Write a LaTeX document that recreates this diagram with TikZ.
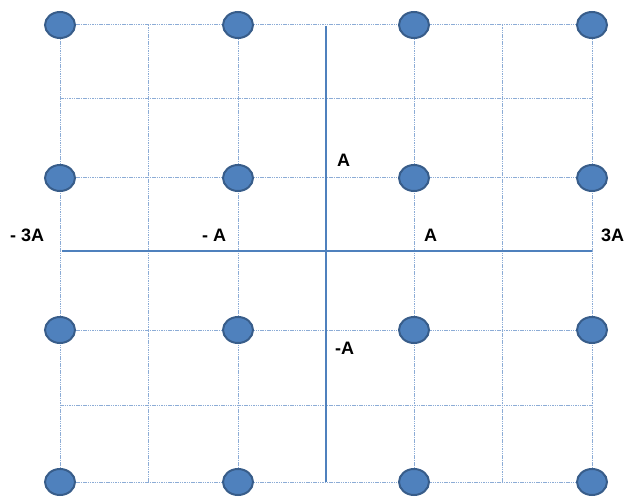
\documentclass[tikz,border=0pt]{standalone}
\usepackage{fontspec}
\setmainfont{Liberation Sans}
\usetikzlibrary{shapes.geometric}
\definecolor{pointfill}{RGB}{79,129,189}
\definecolor{pointedge}{RGB}{56,93,138}
\definecolor{gridblue}{RGB}{140,172,214}
\definecolor{axisblue}{RGB}{79,129,189}
\begin{document}
\begin{tikzpicture}[x=1pt, y=-1pt, every node/.style={font=\bfseries\fontsize{18}{20}\selectfont, inner sep=0pt}]
\tikzset{
  point/.style={ellipse, draw=pointedge, line width=2pt, fill=pointfill, minimum width=30pt, minimum height=26pt},
  gridline/.style={draw=gridblue, line width=1pt, dash pattern=on 1.5pt off 0.8pt},
  axisline/.style={draw=axisblue, line width=2.5pt},
  axislabel/.style={anchor=base west}
}
\useasboundingbox (0,0) rectangle (624,497);

% dotted grid
\foreach \gx in {60,148,238,414,502,592}
  \draw[gridline] (\gx,25) -- (\gx,482);
\foreach \gy in {25,99,178,330,405,482}
  \draw[gridline] (60,\gy) -- (592,\gy);

% axes
\coordinate (xleft) at (62,251);
\coordinate (xright) at (592,251);
\coordinate (ytop) at (326,26);
\coordinate (ybottom) at (326,482);
\draw[axisline] (xleft) -- (xright);
\draw[axisline] (ytop) -- (ybottom);

% constellation points
\foreach \px [count=\i] in {60,238,414,592}
  \foreach \py [count=\j] in {25,178,330,482}
    \node[point] (p\i\j) at (\px,\py) {};

% labels
\node[axislabel] (lblmthree) at (10,242) {- 3A};
\node[axislabel] (lblmone) at (202,242) {- A};
\node[axislabel] (lblone) at (424,242) {A};
\node[axislabel] (lblthree) at (601,242) {3A};
\node[axislabel] (lblup) at (337,167) {A};
\node[axislabel] (lbldown) at (335,354) {-A};
\end{tikzpicture}
\end{document}
